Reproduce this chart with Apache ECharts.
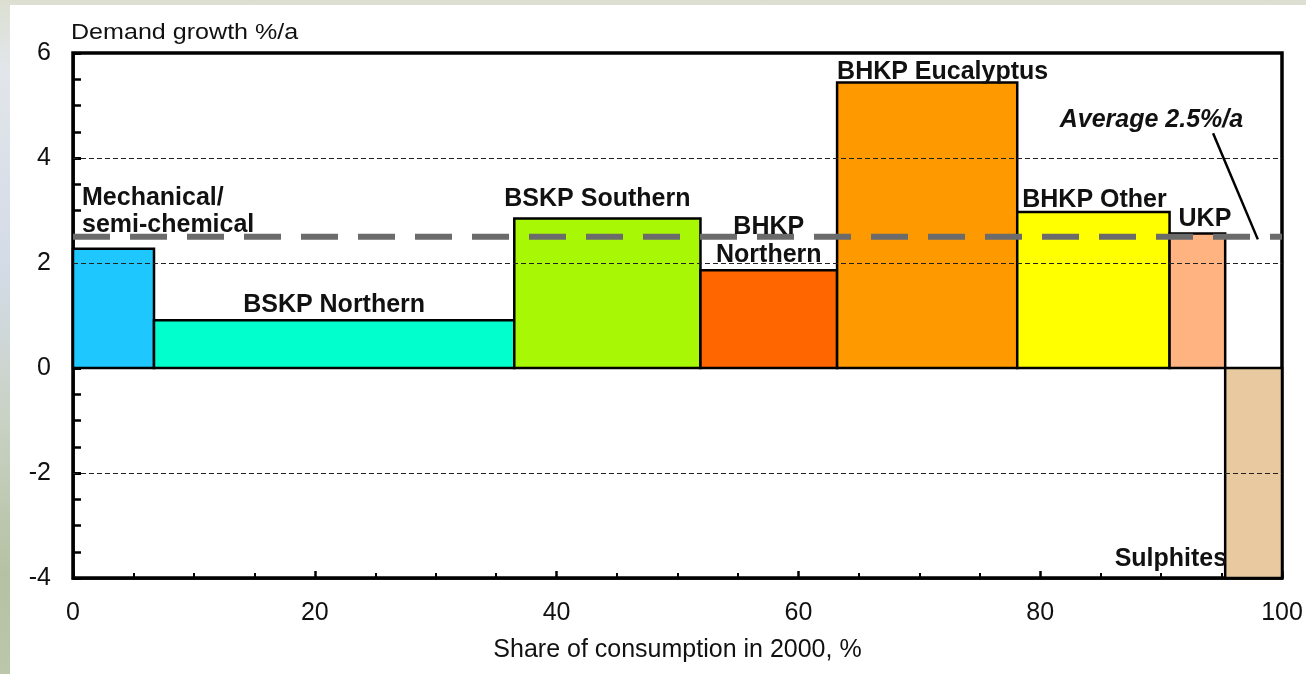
<!DOCTYPE html>
<html>
<head>
<meta charset="utf-8">
<title>Demand growth by pulp grade</title>
<script src="https://cdn.jsdelivr.net/npm/echarts@6/dist/echarts.min.js"></script>
<style>
  html, body { margin: 0; padding: 0; width: 1306px; height: 674px; overflow: hidden; }
  body {
    position: relative;
    background: linear-gradient(to bottom, #dcdfd0 0%, #e2e6ea 10%, #d3dbe7 40%, #c9d2c4 62%, #b6c1a4 85%, #bcc6aa 100%);
  }
  #panel { position: absolute; left: 10px; top: 5px; right: 0; bottom: 0; background: #fff; }
  #chart { position: absolute; left: 0; top: 0; width: 1306px; height: 674px; }
</style>
</head>
<body>
<div id="panel"></div>
<div id="chart"></div>
<script>
// Pulp grades, their share of consumption in 2000 (%) and demand growth (%/a)
const categories = ['Mechanical/\nsemi-chemical', 'BSKP Northern', 'BSKP Southern', 'BHKP\nNorthern',
                    'BHKP Eucalyptus', 'BHKP Other', 'UKP', 'Sulphites'];
const shares = [6.7, 29.8, 15.4, 11.3, 14.9, 12.6, 4.6, 4.7];
const growth = [2.27, 0.91, 2.85, 1.86, 5.44, 2.97, 2.56, -4.0];
const average = 2.5;
const averageLabel = 'Average 2.5%/a';
const averageNote = [[89.2, 4.72]];                 // where the average caption sits
const averagePointer = [[94.3, 4.47], [98.0, 2.45]]; // leader line from caption to the line

const colors = ['#1ec8ff', '#00ffcc', '#a8f806', '#ff6600', '#ff9900', '#ffff00', '#ffb381', '#e8c9a0'];

// label placement relative to each bar's end (align, x shift, y shift)
const labelLayout = [
  { align: 'left',   dx: 9,   dy: -9.5 },
  { align: 'center', dx: 0,   dy: -1 },
  { align: 'center', dx: -10, dy: -5.5 },
  { align: 'center', dx: 0,   dy: -1.5 },
  { align: 'left',   dx: 0,   dy: 3 },
  { align: 'left',   dx: 5,   dy: 2 },
  { align: 'left',   dx: 9,   dy: -0.5 },
  { align: 'right',  dx: 2,   dy: -5 }
];

// variable-width bars: [start, end, value, index]
const barData = [];
let acc = 0;
shares.forEach((s, i) => {
  barData.push([acc, acc + s, growth[i], i]);
  acc += s;
});

const FONT = '"Liberation Sans", Arial, sans-serif';

const chart = echarts.init(document.getElementById('chart'), null, { renderer: 'canvas' });

chart.setOption({
  backgroundColor: 'transparent',
  animation: false,
  grid: {
    left: 73, right: 24, top: 53, bottom: 96,
    show: true, backgroundColor: '#fff', borderColor: '#000', borderWidth: 3.5
  },
  xAxis: {
    type: 'value', min: 0, max: 100, interval: 20,
    name: 'Share of consumption in 2000, %',
    nameLocation: 'middle', nameGap: 60,
    nameTextStyle: { fontFamily: FONT, fontSize: 25, color: '#111' },
    axisLine: { show: true, onZero: false, lineStyle: { color: '#000', width: 2.5 } },
    axisTick: { show: true, inside: true, length: 7, lineStyle: { color: '#000', width: 2.5 } },
    minorTick: { show: true, splitNumber: 4, length: 5, lineStyle: { color: '#000', width: 2 } },
    axisLabel: { fontFamily: FONT, fontSize: 25, color: '#111', margin: 23 },
    splitLine: { show: false }
  },
  yAxis: {
    type: 'value', min: -4, max: 6, interval: 2,
    axisLine: { show: true, onZero: false, lineStyle: { color: '#000', width: 2.5 } },
    axisTick: { show: true, inside: true, length: 8, lineStyle: { color: '#000', width: 3 } },
    minorTick: { show: true, splitNumber: 4, length: 8, lineStyle: { color: '#000', width: 2.5 } },
    axisLabel: { fontFamily: FONT, fontSize: 25, color: '#111', margin: 22 },
    splitLine: { show: false }
  },
  graphic: [{
    type: 'text', x: 71, y: 33, scaleX: 1.14,
    style: { text: 'Demand growth %/a', font: '22px ' + FONT, fill: '#111',
             verticalAlign: 'middle', textVerticalAlign: 'middle' }
  }],
  series: [
    {
      // bars, width = share of consumption, height = demand growth
      type: 'custom', z: 2,
      data: barData,
      encode: { x: [0, 1], y: 2 },
      renderItem(params, api) {
        const i = api.value(3);
        const p0 = api.coord([api.value(0), 0]);
        const p1 = api.coord([api.value(1), api.value(2)]);
        return {
          type: 'rect',
          shape: { x: p0[0], y: Math.min(p0[1], p1[1]), width: p1[0] - p0[0], height: Math.abs(p1[1] - p0[1]) },
          style: { fill: colors[i], stroke: '#000', lineWidth: 2.5 }
        };
      },
      // dashed gridlines drawn over the bars
      markLine: {
        silent: true, symbol: 'none', z: 5,
        label: { show: false },
        lineStyle: { color: '#222', width: 1.2, type: [5, 3] },
        data: [{ yAxis: 4 }, { yAxis: 2 }, { yAxis: -2 }]
      }
    },
    {
      // overall average growth
      type: 'line', z: 6, symbol: 'none', silent: true,
      data: [[0, average], [100, average]],
      lineStyle: { color: '#6b6b6b', width: 6, type: [37, 20], cap: 'butt' },
      markLine: {
        silent: true, symbol: 'none', z: 7,
        label: { show: false },
        lineStyle: { color: '#000', width: 2.5, type: 'solid' },
        data: [[{ coord: averagePointer[0] }, { coord: averagePointer[1] }]]
      },
      markPoint: {
        silent: true, symbol: 'circle', symbolSize: 0, z: 8,
        label: {
          show: true, position: 'inside', formatter: averageLabel,
          fontFamily: FONT, fontSize: 25, fontWeight: 'bold', fontStyle: 'italic', color: '#111'
        },
        data: [{ coord: averageNote[0] }]
      }
    },
    {
      // grade names
      type: 'custom', z: 10, silent: true,
      data: barData,
      encode: { x: [0, 1], y: 2 },
      renderItem(params, api) {
        const i = api.value(3);
        const left = api.coord([api.value(0), api.value(2)]);
        const right = api.coord([api.value(1), api.value(2)]);
        const lay = labelLayout[i];
        let x = left[0] + lay.dx;
        if (lay.align === 'center') x = (left[0] + right[0]) / 2 + lay.dx;
        return {
          type: 'text',
          style: {
            x: x, y: left[1] + lay.dy,
            text: categories[i],
            font: 'bold 25px ' + FONT, fill: '#111',
            align: lay.align, textAlign: lay.align,
            verticalAlign: 'bottom', textVerticalAlign: 'bottom',
            lineHeight: 27.5
          }
        };
      }
    }
  ]
});
</script>
</body>
</html>
